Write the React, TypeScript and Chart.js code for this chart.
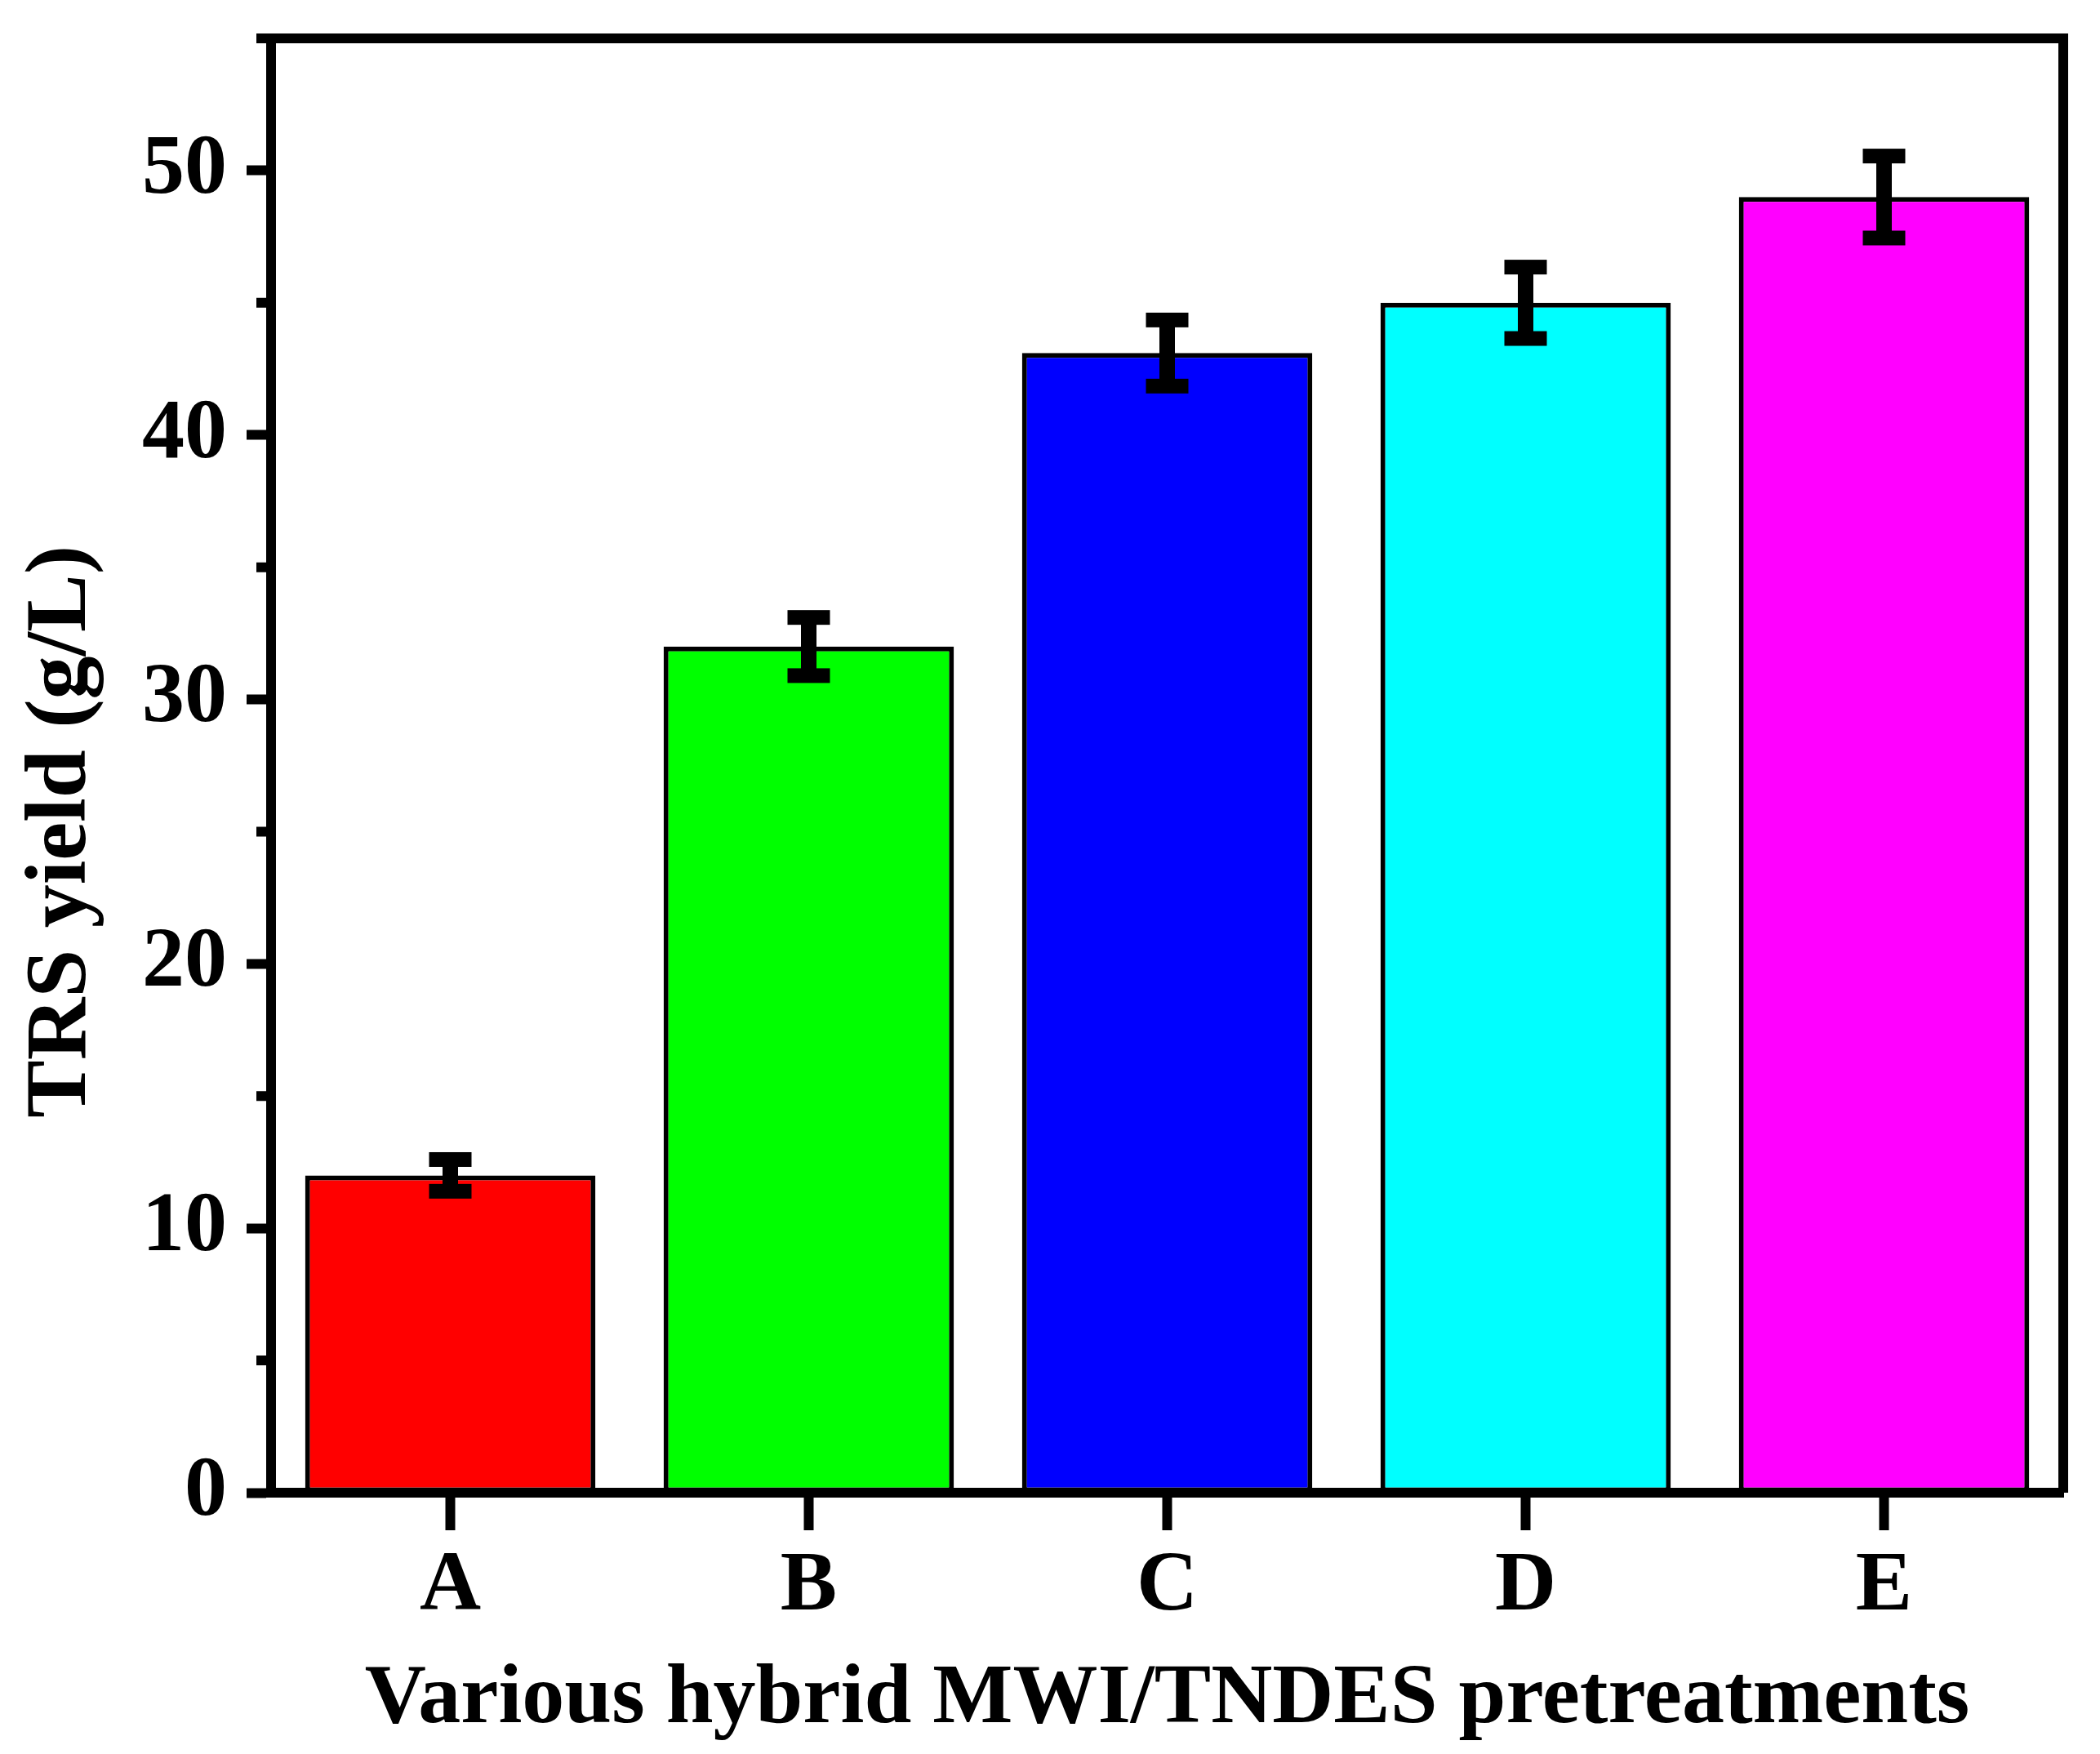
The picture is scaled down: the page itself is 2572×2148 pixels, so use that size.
import React, { useEffect, useRef } from 'react';
import { Chart, registerables } from 'chart.js';

Chart.register(...registerables);

const categories = ['A', 'B', 'C', 'D', 'E'];
const trsYield = [12, 32, 43.1, 45, 49];
const trsError = [0.6, 1.1, 1.25, 1.35, 1.55];
const barColors = ['#FF0000', '#00FF00', '#0000FF', '#00FFFF', '#FF00FF'];
const yMinorTicks = [5, 15, 25, 35, 45, 55];
const xTitle = 'Various hybrid MWI/TNDES pretreatments';
const yTitle = 'TRS yield (g/L)';

const FAMILY = "'Liberation Serif', 'Times New Roman', serif";
const W = 2572;
const H = 2148;

const decorPlugin = {
  id: 'decor',
  afterDatasetsDraw(chart: any) {
    const ctx = chart.ctx;
    const y = chart.scales.y;
    const meta = chart.getDatasetMeta(0);
    ctx.save();
    ctx.fillStyle = '#000';
    meta.data.forEach((bar: any, i: number) => {
      const top = y.getPixelForValue(trsYield[i] + trsError[i]);
      const bot = y.getPixelForValue(trsYield[i] - trsError[i]);
      ctx.fillRect(bar.x - 9.5, top, 19, bot - top);
      ctx.fillRect(bar.x - 26, top - 9, 52, 18);
      ctx.fillRect(bar.x - 26, bot - 9, 52, 18);
    });
    ctx.restore();
  },
  afterDraw(chart: any) {
    const ctx = chart.ctx;
    const a = chart.chartArea;
    const y = chart.scales.y;
    ctx.save();
    ctx.strokeStyle = '#000';
    ctx.lineCap = 'butt';
    ctx.lineWidth = 12;
    ctx.beginPath();
    ctx.moveTo(a.left - 6, a.top);
    ctx.lineTo(a.right + 6, a.top);
    ctx.moveTo(a.right, a.top);
    ctx.lineTo(a.right, a.bottom);
    yMinorTicks.forEach((v) => {
      const py = y.getPixelForValue(v);
      ctx.moveTo(a.left - 18, py);
      ctx.lineTo(a.left, py);
    });
    ctx.stroke();
    ctx.translate(77, y.getPixelForValue(25));
    ctx.rotate(-Math.PI / 2);
    ctx.font = `bold 106px ${FAMILY}`;
    ctx.fillStyle = '#000';
    ctx.textAlign = 'center';
    ctx.textBaseline = 'middle';
    ctx.fillText(yTitle, 0, 0);
    ctx.restore();
  },
};

export default function App() {
  const ref = useRef<HTMLCanvasElement>(null);

  useEffect(() => {
    document.body.style.margin = '0';
    const canvas = ref.current;
    if (!canvas) return;
    const font = { family: FAMILY, size: 104, weight: 'bold' as const, lineHeight: 1.2 };
    const chart = new Chart(canvas, {
      type: 'bar',
      data: {
        labels: categories,
        datasets: [
          {
            data: trsYield,
            backgroundColor: barColors,
            borderColor: '#000',
            borderWidth: 6,
            borderSkipped: false,
            barPercentage: 0.81,
            categoryPercentage: 1,
          },
        ],
      },
      options: {
        responsive: false,
        animation: false,
        devicePixelRatio: 1,
        layout: { padding: { left: 0, top: 47, right: 45, bottom: 0 } },
        plugins: { legend: { display: false }, tooltip: { enabled: false } },
        scales: {
          x: {
            offset: true,
            grid: {
              display: true,
              offset: false,
              drawOnChartArea: false,
              drawTicks: true,
              tickLength: 46,
              tickWidth: 12,
              tickColor: '#000',
            },
            border: { display: true, color: '#000', width: 12 },
            ticks: { color: '#000', font, padding: 8, maxRotation: 0 },
            title: {
              display: true,
              text: xTitle,
              color: '#000',
              font,
              padding: { top: 0, bottom: 3 },
            },
            afterFit: (s: any) => {
              s.height = H - 1828;
              s.paddingLeft = 0;
              s.paddingRight = 0;
            },
          },
          y: {
            min: 0,
            max: 55,
            grid: {
              display: true,
              drawOnChartArea: false,
              drawTicks: true,
              tickLength: 30,
              tickWidth: 12,
              tickColor: '#000',
            },
            border: { display: true, color: '#000', width: 12 },
            ticks: { stepSize: 10, includeBounds: false, color: '#000', font, padding: 24 },
            title: { display: false },
            afterFit: (s: any) => {
              s.width = 332;
              s.paddingTop = 0;
              s.paddingBottom = 0;
            },
          },
        },
      },
      plugins: [decorPlugin],
    });
    return () => chart.destroy();
  }, []);

  return (
    <canvas
      ref={ref}
      width={W}
      height={H}
      style={{ display: 'block', width: `${W}px`, height: `${H}px` }}
    />
  );
}
